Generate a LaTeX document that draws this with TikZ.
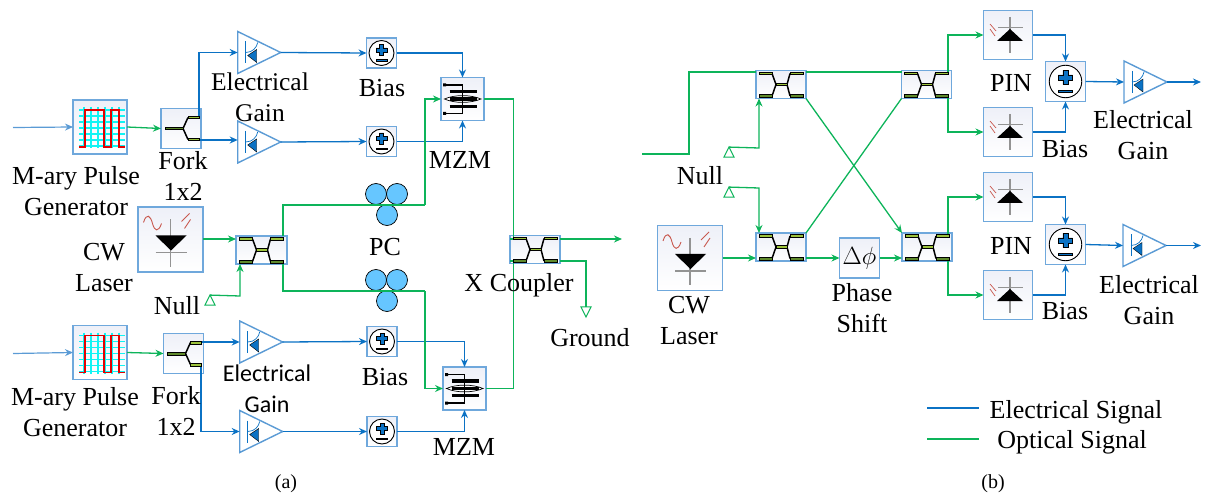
\documentclass[tikz,border=0pt]{standalone}
\usepackage{fontspec}
\setmainfont{Liberation Serif}
\newfontfamily\calfont{Carlito}
\usetikzlibrary{arrows.meta,shapes.geometric}
\definecolor{edgeblue}{HTML}{6FA8DC}
\definecolor{sigblue}{HTML}{0B72C4}
\definecolor{paleblue}{HTML}{5B9BD5}
\definecolor{siggreen}{HTML}{0DB45A}
\definecolor{barlight}{HTML}{9CC23C}
\definecolor{bardark}{HTML}{5F8A2C}
\definecolor{gridcyan}{HTML}{10F4F4}
\definecolor{pcblue}{HTML}{66C6FF}
\definecolor{glyphred}{HTML}{C8584E}
\definecolor{boxtop}{HTML}{EEF0F8}
\tikzset{
  x=1pt,y=-1pt,
  devbox/.style={draw=edgeblue,line width=1.5pt,top color=boxtop,bottom color=white,inner sep=0pt,outer sep=0pt},
  amp/.style={isosceles triangle,isosceles triangle stretches,shape border rotate=0,draw=paleblue,line width=1.4pt,fill=white,inner sep=0pt,outer sep=0pt,minimum width=42pt,minimum height=43pt,anchor=west},
  pcroll/.style={circle,draw=black,line width=.7pt,fill=pcblue,minimum size=21pt,inner sep=0pt,outer sep=0pt},
  gnd/.style={isosceles triangle,isosceles triangle stretches,shape border rotate=90,draw=siggreen,line width=1pt,fill=white,inner sep=0pt,outer sep=0pt,minimum width=10pt,minimum height=10pt},
  gndd/.style={gnd,shape border rotate=-90},
  elec/.style={draw=sigblue,line width=1.3pt,-{Stealth[length=8pt,width=7pt]}},
  elecp/.style={draw=sigblue,line width=1.3pt},
  opt/.style={draw=siggreen,line width=1.3pt,-{Stealth[length=8pt,width=7pt]}},
  optp/.style={draw=siggreen,line width=1.3pt},
  lab/.style={inner sep=0pt,outer sep=0pt,align=center,font=\fontsize{26}{31}\selectfont},
  captxt/.style={inner sep=0pt,outer sep=0pt,font=\fontsize{20}{22}\selectfont},
  couplerg/.pic={
    \draw[black,line width=1.5pt] (-9,-11)--(-5,0)--(-9,11.5) (9,-11)--(6,0)--(9,11.5);
    \draw[black,line width=.6pt,fill=barlight] (-22,-12.3) rectangle (-9,-9.7);
    \draw[black,line width=.6pt,fill=barlight] (9,-12.3) rectangle (22,-9.7);
    \draw[black,line width=.6pt,fill=barlight] (-5,-1.3) rectangle (6,1.3);
    \draw[black,line width=.6pt,fill=bardark] (-22,10) rectangle (-9,13);
    \draw[black,line width=.6pt,fill=bardark] (9,10) rectangle (22,13);
  },
  forkg/.pic={
    \draw[black,line width=1.5pt] (-16,0)--(2,0) (7,-11)--(2,0)--(7,11);
    \draw[black,line width=.6pt,fill=bardark] (-16,-1.3) rectangle (2,1.3);
    \draw[black,line width=.6pt,fill=barlight] (7,-12.3) rectangle (18,-9.7);
    \draw[black,line width=.6pt,fill=barlight] (7,9.7) rectangle (18,12.3);
  },
  ampg/.pic={
    \draw[sigblue,line width=.9pt] (8,-11)--(8,11);
    \draw[sigblue,line width=.7pt] (8,0) .. controls (15,0) and (19,-5) .. (20,-10);
    \draw[black,line width=.4pt,fill=sigblue] (10,3)--(19,-3)--(19,10)--cycle;
  },
  biasg/.pic={
    \draw[black,line width=.9pt,fill=white] (0,0) circle[radius=12.5];
    \draw[black,line width=.5pt,fill=sigblue] (-2,-8.5)--(2,-8.5)--(2,-5)--(5.5,-5)--(5.5,-1)--(2,-1)--(2,2.5)--(-2,2.5)--(-2,-1)--(-5.5,-1)--(-5.5,-5)--(-2,-5)--cycle;
    \draw[black,line width=.5pt,fill=sigblue] (-5.5,6.5) rectangle (5.5,8);
  },
  mzmg/.pic={
    \draw[black,line width=1.3pt] (-18,-14)--(0,-14)--(0,14.5)--(-18,14.5);
    \fill[black] (-19.5,-15.5) rectangle (-16.5,-12.5) (-19.5,13) rectangle (-16.5,16);
    \draw[black,line width=.7pt,fill=white] (-18,0) .. controls (-8,-4.5) and (8,-4.5) .. (18.5,0) .. controls (8,4.5) and (-8,4.5) .. cycle;
    \draw[black,line width=3.2pt] (-13,-7.5)--(14,-7.5) (-13,0)--(14,0) (-13,7.3)--(14,7.3);
    \draw[black,line width=1.3pt] (0,-14)--(0,14.5);
  },
  laserg/.pic={
    \draw[gray!85,line width=1.2pt] (0,-20)--(0,27) (-15,13)--(16,13);
    \fill[black] (-15,-4)--(16,-4)--(0.5,11)--cycle;
    \draw[glyphred,line width=.9pt] (-27,-17) .. controls (-24,-27) and (-20,-24) .. (-18,-16) .. controls (-16,-8) and (-12,-7) .. (-9,-16);
    \draw[glyphred,line width=.9pt] (11,-18)--(19,-26) (14,-11)--(20,-20);
  },
  ping/.pic={
    \draw[gray!85,line width=1.2pt] (2,-18)--(2,18) (-10,-7.5)--(15,-7.5);
    \fill[black] (-11,6)--(15,6)--(2,-6)--cycle;
    \draw[glyphred,line width=.7pt] (-18,-11)--(-12,-4) (-18,-6)--(-13,1);
  },
  pulseg/.pic={
    \foreach \hy in {-17,-11,-5,1,7,13,19} \draw[gridcyan,line width=1.5pt] (-21,\hy)--(25,\hy);
    \foreach \vx in {-16,-9,-2,5,12,19} \draw[gridcyan,line width=1.5pt] (\vx,-20)--(\vx,21);
    \draw[red!90!black,line width=1.3pt] (-21,20)--(-15,20)--(-15,-17)--(4,-17)--(4,20)--(11,20)--(11,-17)--(19,-17)--(19,20)--(25,20);
  }
}
\begin{document}
\begin{tikzpicture}
\useasboundingbox (0,0) rectangle (1205,497);
% ---------- (a) devices
\node[devbox,minimum size=54pt] (pulseA) at (100,127) {};
\node[devbox,minimum size=54pt] (pulseB) at (100,352.5) {};
\node[devbox,minimum size=40pt] (forkA) at (181,128.5) {};
\node[devbox,minimum size=40pt] (forkB) at (183.5,353.5) {};
\node[amp] (ampA) at (237.7,52.5) {};
\node[amp] (ampB) at (237.7,142) {};
\node[amp] (ampC) at (239.7,342) {};
\node[amp] (ampD) at (239.7,431.5) {};
\node[devbox,minimum size=30pt] (biasA) at (381.5,53) {};
\node[devbox,minimum size=30pt] (biasB) at (381.5,141.5) {};
\node[devbox,minimum size=30pt] (biasC) at (382,341.5) {};
\node[devbox,minimum size=30pt] (biasD) at (382,431.5) {};
\node[devbox,minimum size=43pt] (mzmA) at (462.5,99) {};
\node[devbox,minimum size=43pt] (mzmB) at (464.5,388.5) {};
\node[devbox,minimum size=65pt] (laserA) at (170.5,239.5) {};
\node[devbox,minimum width=51pt,minimum height=28pt] (cplA) at (261.5,250) {};
\node[devbox,minimum width=50pt,minimum height=28pt] (cplX) at (535,249.5) {};
\node[pcroll] (pc1) at (376,194) {};
\node[pcroll] (pc2) at (397,194) {};
\node[pcroll] (pc3) at (387,215) {};
\node[pcroll] (pc4) at (376,280) {};
\node[pcroll] (pc5) at (397,280) {};
\node[pcroll] (pc6) at (387,301) {};
\coordinate (inA) at (13,127.5);
\coordinate (inB) at (13,353.5);
\node[gnd] (nullA) at (210,302) {};
\node[gndd] (gndX) at (586,310) {};
\coordinate (outX) at (622,239);
\coordinate (jA) at (283,205);
\coordinate (jB) at (283,291);
% (a) connectors
\draw[draw=paleblue,line width=1.2pt,-{Stealth[length=8pt,width=7pt]}] (inA)--(pulseA.west);
\draw[draw=paleblue,line width=1.2pt,-{Stealth[length=8pt,width=7pt]}] (inB)--(pulseB.west);
\draw[opt] (pulseA.east)--(forkA.west);
\draw[opt] (pulseB.east)--(forkB.west);
\draw[elec] (199,117)|-(ampA.west);
\draw[elec] (199,140)--(237.7,140);
\draw[elec] (202,342)--(ampC.west);
\draw[elec] (201,365)|-(ampD.west);
\draw[elec] (ampA.east)--(biasA.west);
\draw[elec] (ampB.east)--(biasB.west);
\draw[elec] (ampC.east)--(biasC.west);
\draw[elec] (ampD.east)--(biasD.west);
\draw[elec] (biasA.east)-|(mzmA.north);
\draw[elec] (biasB.east)-|(mzmA.south);
\draw[elec] (biasC.east)-|(mzmB.north);
\draw[elec] (biasD.east)-|(mzmB.south);
\draw[opt] (laserA.east|-0,239)--(cplA.west|-0,239);
\draw[opt] (nullA.north)--(240,296)--(cplA.south-|240,296);
\draw[optp] (283,236)--(jA)--(425,205);
\draw[opt] (425,205)|-(mzmA.west);
\draw[optp] (283,264)--(jB)--(425,291);
\draw[opt] (425,291)|-(mzmB.west);
\draw[optp] (mzmA.east)--(513.5,99)--(513.5,239)--(cplX.west|-0,239);
\draw[optp] (mzmB.east)--(513.5,388.5)--(513.5,261)--(cplX.west|-0,261);
\draw[opt] (cplX.east|-0,239)--(outX);
\draw[optp] (cplX.east|-0,261)--(586,261)--(gndX.north);
% (a) glyphs
\foreach \nn in {pulseA,pulseB} \pic at (\nn.center) {pulseg};
\foreach \nn in {forkA,forkB} \pic at (\nn.center) {forkg};
\foreach \nn in {ampA,ampB,ampC,ampD} \pic at (\nn.west) {ampg};
\foreach \nn in {biasA,biasB,biasC,biasD} \pic at (\nn.center) {biasg};
\foreach \nn in {mzmA,mzmB} \pic at (\nn.center) {mzmg};
\pic at (laserA.center) {laserg};
\foreach \nn in {cplA,cplX} \pic at (\nn.center) {couplerg};
% (a) labels
\node[lab] (tPulseA) at (76,191) {M-ary Pulse\\Generator};
\node[lab] (tPulseB) at (75,412) {M-ary Pulse\\Generator};
\node[lab] (tForkA) at (183,176) {Fork\\1x2};
\node[lab] (tForkB) at (176,411) {Fork\\1x2};
\node[lab,font=\fontsize{25.5}{31}\selectfont] (tGainA) at (260,97) {Electrical\\Gain};
\node[lab,font=\calfont\fontsize{24}{31}\selectfont] (tGainB) at (267,389) {Electrical\\Gain};
\node[lab] (tBiasA) at (382,88) {Bias};
\node[lab] (tBiasC) at (385,377) {Bias};
\node[lab] (tMzmA) at (460,160) {MZM};
\node[lab] (tMzmB) at (464,447) {MZM};
\node[lab] (tLaserA) at (104,268) {CW\\Laser};
\node[lab] (tNullA) at (177,306) {Null};
\node[lab] (tPc) at (385,247) {PC};
\node[lab] (tCoup) at (519,285) {X Coupler};
\node[lab] (tGnd) at (590,338) {Ground};
\node[captxt] (tCapA) at (286,484) {(a)};
% ---------- (b) devices
\node[devbox,minimum width=50pt,minimum height=28pt] (cplP) at (781,84.5) {};
\node[devbox,minimum width=50pt,minimum height=28pt] (cplQ) at (781,247) {};
\node[devbox,minimum width=50pt,minimum height=28pt] (cplR) at (926.5,84.5) {};
\node[devbox,minimum width=50pt,minimum height=28pt] (cplS) at (927,247) {};
\node[devbox,minimum size=65pt] (laserB) at (690,258) {};
\node[devbox,minimum size=40pt,font=\fontsize{27}{27}\selectfont] (phase) at (859.5,258) {$\Delta\phi$};
\node[devbox,minimum size=49pt] (pinA) at (1008,35) {};
\node[devbox,minimum size=49pt] (pinB) at (1008,132) {};
\node[devbox,minimum size=49pt] (pinC) at (1008,197) {};
\node[devbox,minimum size=49pt] (pinD) at (1008,295) {};
\node[devbox,minimum size=40pt] (biasE) at (1065.5,81.5) {};
\node[devbox,minimum size=40pt] (biasF) at (1065.5,244.5) {};
\node[amp] (ampE) at (1124,82) {};
\node[amp] (ampF) at (1123,245.5) {};
\coordinate (inC) at (642,154);
\coordinate (outE) at (1201,82);
\coordinate (outF) at (1201,245.5);
\node[gnd] (nullB) at (729,154) {};
\node[gnd] (nullC) at (729,194) {};
\coordinate (legE1) at (927,408);
\coordinate (legE2) at (979,408);
\coordinate (legO1) at (927,439);
\coordinate (legO2) at (979,439);
% (b) connectors
\draw[optp] (inC)--(689,154)--(689,72)--(cplP.west|-0,72);
\draw[opt] (nullB.north)--(759,148)--(cplP.south-|759,148);
\draw[opt] (nullC.north)--(759,188)--(cplQ.north-|759,188);
\draw[opt] (laserB.east)--(cplQ.west|-0,258);
\draw[optp] (cplP.east|-0,72)--(cplR.west|-0,72);
\draw[opt] (cplP.south east)--(cplS.north west);
\draw[optp] (cplQ.north east)--(cplR.south west);
\draw[opt] (cplQ.east|-0,258)--(phase.west);
\draw[opt] (phase.east)--(cplS.west|-0,258);
\draw[opt] (948,72)|-(pinA.west);
\draw[opt] (948,97)|-(pinB.west);
\draw[opt] (948,235)|-(pinC.west);
\draw[opt] (948,259)|-(pinD.west);
\draw[elec] (pinA.east)-|(biasE.north);
\draw[elec] (pinB.east)-|(biasE.south);
\draw[elec] (pinC.east)-|(biasF.north);
\draw[elec] (pinD.east)-|(biasF.south);
\draw[elec] (biasE.east)--(ampE.west);
\draw[elec] (biasF.east)--(ampF.west);
\draw[elec] (ampE.east)--(outE);
\draw[elec] (ampF.east)--(outF);
\draw[elecp] (legE1)--(legE2);
\draw[optp] (legO1)--(legO2);
% (b) glyphs
\foreach \nn in {cplP,cplQ,cplR,cplS} \pic at (\nn.center) {couplerg};
\pic at (laserB.center) {laserg};
\foreach \nn in {pinA,pinB,pinC,pinD} \pic at (\nn.center) {ping};
\foreach \nn in {biasE,biasF} \pic[scale=1.3] at (\nn.center) {biasg};
\foreach \nn in {ampE,ampF} \pic at (\nn.west) {ampg};
% (b) labels
\node[lab] (tNullB) at (700,176) {Null};
\node[lab] (tLaserB) at (689,321) {CW\\Laser};
\node[lab] (tPhase) at (862,308) {Phase\\Shift};
\node[lab] (tPinA) at (1011,83) {PIN};
\node[lab] (tPinC) at (1011,246) {PIN};
\node[lab] (tBiasE) at (1065,149) {Bias};
\node[lab] (tBiasF) at (1065,311) {Bias};
\node[lab] (tGainE) at (1143,135) {Electrical\\Gain};
\node[lab] (tGainF) at (1149,300) {Electrical\\Gain};
\node[lab] (tLegE) at (1076,412) {Electrical Signal};
\node[lab] (tLegO) at (1072,442) {Optical Signal};
\node[captxt] (tCapB) at (993,484) {(b)};
\end{tikzpicture}
\end{document}
